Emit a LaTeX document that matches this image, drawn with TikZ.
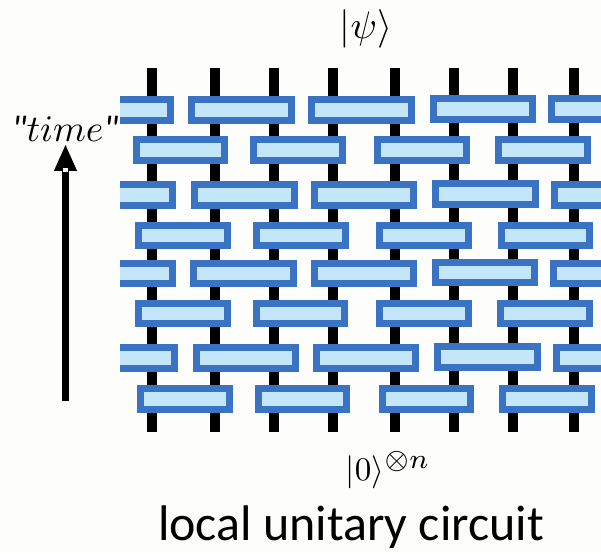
\documentclass[tikz,border=0pt]{standalone}
\usepackage{amsmath}
\usepackage{amssymb}
\usepackage{fontspec}
\usepackage{pgf,tikz}
\usetikzlibrary{arrows.meta}
\newfontfamily\captionfont{Carlito}
\definecolor{gateblue}{HTML}{3A72C4}
\definecolor{gatefill}{HTML}{C4E6F9}
\definecolor{paper}{HTML}{FDFEFC}
\tikzset{
  wire/.style={line width=10pt},
  gate/.style={draw=gateblue,fill=gatefill,line width=7pt},
  timearrow/.style={line width=7pt,-{Triangle[length=27pt,width=21pt]}},
  mathlabel/.style={inner sep=0pt,anchor=base}
}

\begin{document}
\begin{tikzpicture}[x=1pt,y=-1pt]
\useasboundingbox[fill=paper] (0,0) rectangle (601,553);

\begin{scope}
\clip (120,0) rectangle (601,553);
\draw[wire] (152,68) -- (152,432);
\draw[wire] (215,68) -- (215,432);
\draw[wire] (274,68) -- (274,432);
\draw[wire] (333,68) -- (333,432);
\draw[wire] (395,68) -- (395,432);
\draw[wire] (454,68) -- (454,432);
\draw[wire] (513,68) -- (513,432);
\draw[wire] (574,68) -- (574,432);

\draw[gate] (100,99.5) rectangle (170.5,120.5);
\draw[gate] (191.5,99.5) rectangle (291.5,120.5);
\draw[gate] (311.5,99.5) rectangle (411.5,120.5);
\draw[gate] (433.5,98.5) rectangle (532.5,119.5);
\draw[gate] (551.5,98.5) rectangle (620,119.5);

\draw[gate] (136.5,139.5) rectangle (224.5,160.5);
\draw[gate] (253.5,139.5) rectangle (342.5,160.5);
\draw[gate] (377.5,139.5) rectangle (466.5,160.5);
\draw[gate] (498.5,139.5) rectangle (587.5,160.5);

\draw[gate] (100,184.5) rectangle (172.5,205.5);
\draw[gate] (194.5,184.5) rectangle (294.5,205.5);
\draw[gate] (314.5,184.5) rectangle (413.5,205.5);
\draw[gate] (435.5,183.5) rectangle (535.5,204.5);
\draw[gate] (554.5,184.5) rectangle (620,205.5);

\draw[gate] (138.5,225.5) rectangle (227.5,245.5);
\draw[gate] (256.5,225.5) rectangle (345.5,245.5);
\draw[gate] (379.5,225.5) rectangle (468.5,245.5);
\draw[gate] (501.5,225.5) rectangle (589.5,245.5);

\draw[gate] (100,263.5) rectangle (172.5,283.5);
\draw[gate] (193.5,263.5) rectangle (293.5,283.5);
\draw[gate] (314.5,263.5) rectangle (413.5,283.5);
\draw[gate] (435.5,262.5) rectangle (534.5,282.5);
\draw[gate] (553.5,263.5) rectangle (620,283.5);

\draw[gate] (138.5,303.5) rectangle (227.5,323.5);
\draw[gate] (256.5,303.5) rectangle (344.5,323.5);
\draw[gate] (379.5,303.5) rectangle (468.5,323.5);
\draw[gate] (500.5,303.5) rectangle (589.5,323.5);

\draw[gate] (100,347.5) rectangle (174.5,368.5);
\draw[gate] (196.5,347.5) rectangle (295.5,368.5);
\draw[gate] (316.5,347.5) rectangle (415.5,368.5);
\draw[gate] (437.5,346.5) rectangle (537.5,367.5);
\draw[gate] (556.5,347.5) rectangle (620,368.5);

\draw[gate] (140.5,388.5) rectangle (229.5,409.5);
\draw[gate] (258.5,388.5) rectangle (346.5,409.5);
\draw[gate] (382.5,388.5) rectangle (470.5,409.5);
\draw[gate] (502.5,388.5) rectangle (591.5,409.5);
\end{scope}

\coordinate (timestart) at (65.5,401);
\coordinate (timeend) at (65.5,144);
\draw[timearrow] (timestart) -- (timeend);
\fill[white] (63,168.5) rectangle (68,172);

\node[mathlabel,scale=3.75] (timelabel) at (65,142) {{\captionfont\itshape"}$time${\captionfont\itshape"}};
\node[mathlabel,scale=3.85] (outstate) at (366,38.5) {$|\psi\rangle$};
\node[mathlabel,scale=3.3] (instate) at (388,480) {$|0\rangle^{\scalebox{1.2}{$\scriptstyle\otimes n$}}$};
\node[mathlabel] (caption) at (351,540.5) {\fontsize{50}{50}\selectfont\captionfont local unitary circuit};
\end{tikzpicture}
\end{document}
